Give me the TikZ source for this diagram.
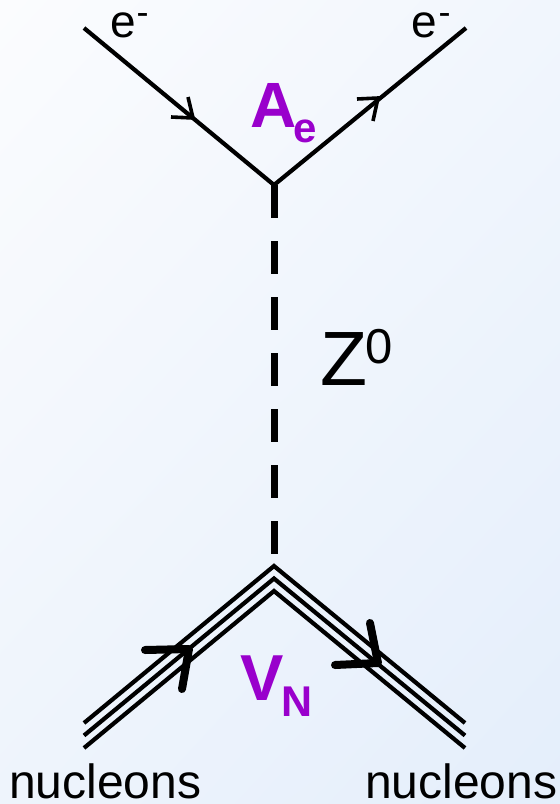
\documentclass[tikz,border=0pt]{standalone}
\usepackage{fontspec}
\setmainfont{Liberation Sans}
\usetikzlibrary{shadings}
\definecolor{purp}{HTML}{9900CC}
\definecolor{bgA}{HTML}{FBFCFE}
\definecolor{bgB}{HTML}{F1F6FD}
\definecolor{bgC}{HTML}{EEF4FC}
\definecolor{bgD}{HTML}{E4EEFB}
\begin{document}
\begin{tikzpicture}[x=1pt,y=-1pt,
  fline/.style={line width=4.2pt, line join=miter},
  thinarrow/.style={line width=3.6pt, line join=miter},
  thickarrow/.style={line width=8pt, line join=round, line cap=round},
  lbl/.style={inner sep=0pt, anchor=base west},
  zline/.style={line width=7pt, dash pattern=on 33pt off 23pt}]
\shade[upper left=bgA, upper right=bgB, lower left=bgC, lower right=bgD] (0,0) rectangle (560,804);
\useasboundingbox (0,0) rectangle (560,804);
% vertices and ends
\coordinate (eIn) at (84,28);
\coordinate (vTop) at (274,185);
\coordinate (eOut) at (466,28);
\coordinate (zEnd) at (274,555);
\coordinate (vBot) at (274,566);
\coordinate (nIn) at (84,723);
\coordinate (nOut) at (465,723);
% electron line
\draw[fline] (eIn) -- (vTop) -- (eOut);
% Z0 propagator
\draw[zline] (vTop) -- (zEnd);
% nucleon triple line
\foreach \d in {0,12.5,25}
  \draw[fline] ([yshift=-\d pt]nIn) -- ([yshift=-\d pt]vBot) -- ([yshift=-\d pt]nOut);
% arrows
\draw[thinarrow] (171,117) -- (193,118) -- (188,97);
\draw[thinarrow] (357,99) -- (378,98) -- (373,121);
\draw[thickarrow] (145,650) -- (189,649) -- (182,689);
\draw[thickarrow] (370,623) -- (378,663) -- (335,665);
% labels
\node[lbl] (eL) at (110,37) {\fontsize{46}{46}\selectfont e};
\node[lbl] (eLm) at (136.5,24) {\fontsize{36}{36}\selectfont -};
\node[lbl] (eR) at (411,37) {\fontsize{46}{46}\selectfont e};
\node[lbl] (eRm) at (438.5,24) {\fontsize{36}{36}\selectfont -};
\node[lbl] (Z) at (320.5,385) {\fontsize{77}{77}\selectfont Z};
\node[lbl] (Zs) at (365,363) {\fontsize{49}{49}\selectfont 0};
\node[lbl, text=purp] (A) at (250,127) {\fontsize{64}{64}\selectfont\bfseries A};
\node[lbl, text=purp] (As) at (293.5,142) {\fontsize{42}{42}\selectfont\bfseries e};
\node[lbl, text=purp] (V) at (240,700) {\fontsize{65}{65}\selectfont\bfseries V};
\node[lbl, text=purp] (Vs) at (281,716) {\fontsize{43}{43}\selectfont\bfseries N};
\node[lbl] (nL) at (9,798) {\fontsize{48}{48}\selectfont nucleons};
\node[lbl] (nR) at (365,798) {\fontsize{48}{48}\selectfont nucleons};
\end{tikzpicture}
\end{document}
